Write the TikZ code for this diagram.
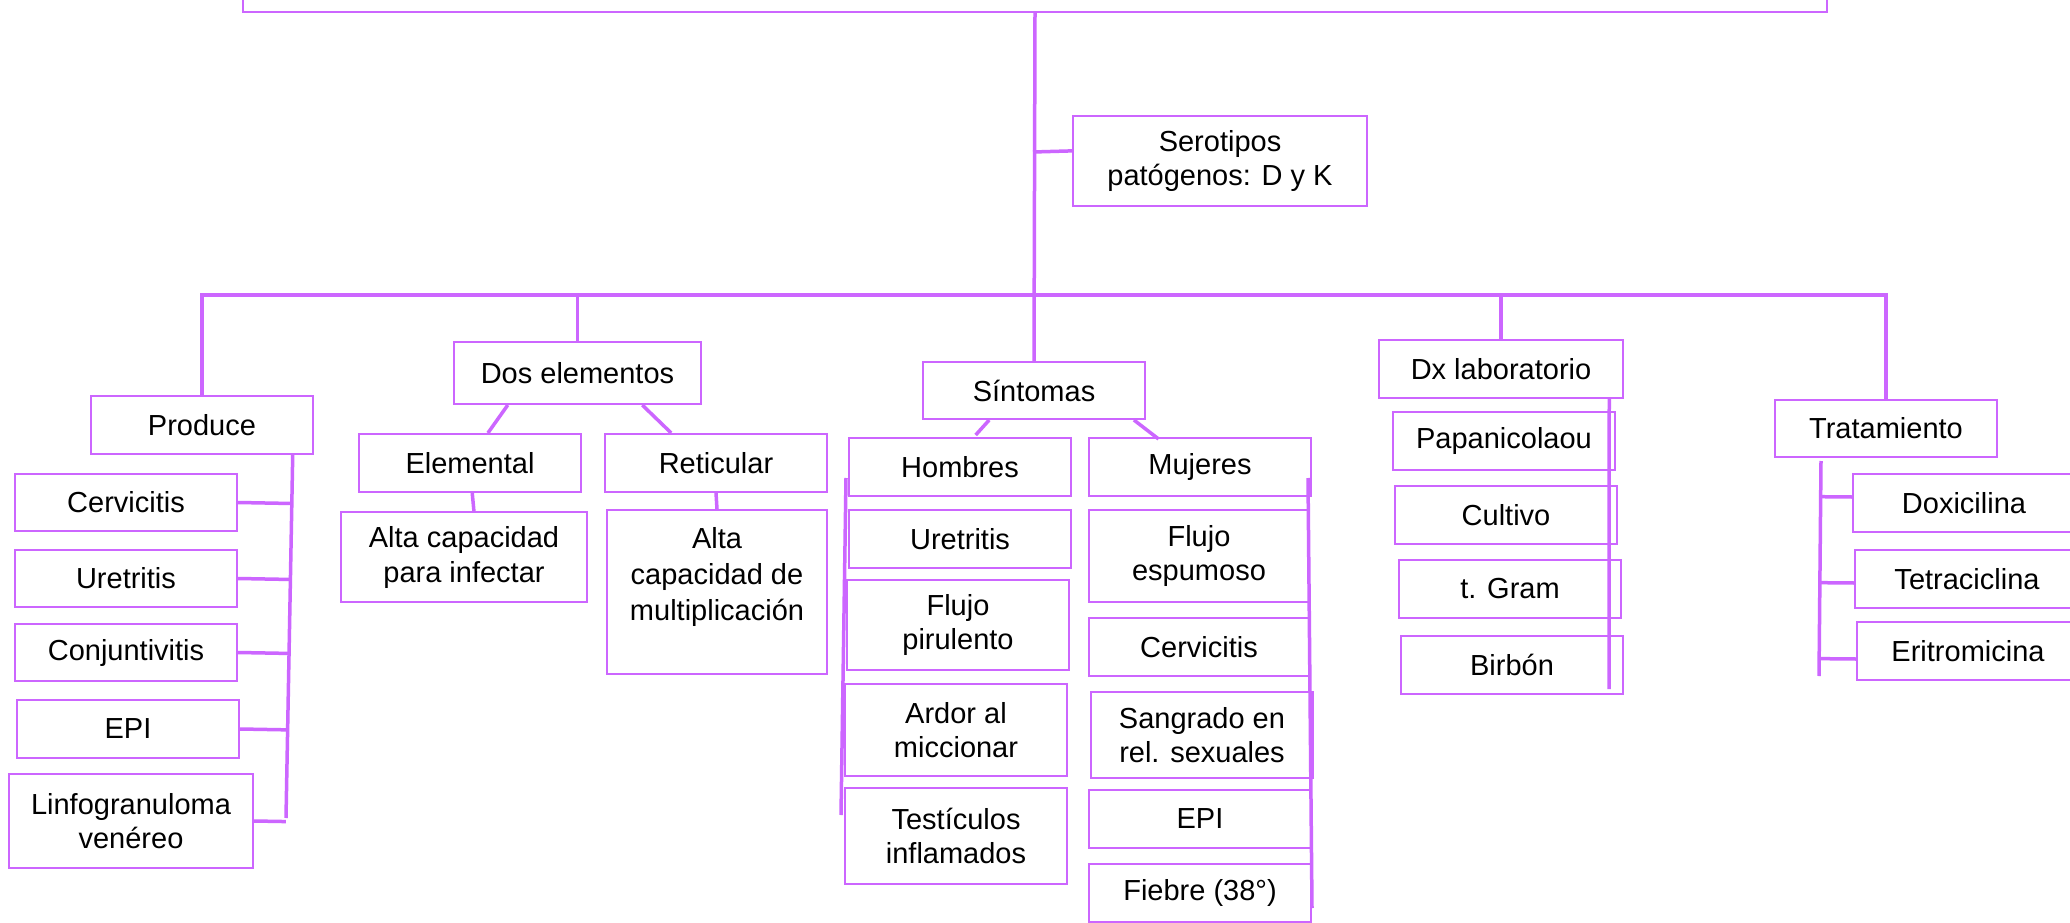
\documentclass[tikz,border=0pt]{standalone}
\usepackage{fontspec}
\setmainfont{Liberation Sans}
\usetikzlibrary{calc}
\definecolor{pur}{RGB}{204,102,255}
\newcommand\fs{\fontsize{29}{34}\selectfont}
\tikzset{
  bbase/.style={draw=pur, line width=2pt, inner sep=0pt, anchor=north west, font=\fs, text=black},
  box/.style={bbase, align=center},
  conn/.style={draw=pur, line width=3.5pt},
}
\begin{document}
\begin{tikzpicture}[x=1pt,y=-1pt]
\useasboundingbox (0,0) rectangle (2070,923);
\fill[white] (0,0) rectangle (2070,923);
\clip (0,0) rectangle (2070,923);

% top box
\node[box, minimum width=1584pt, minimum height=60pt] (top) at (242,-49) {};
\node[box, minimum width=294pt, minimum height=90pt] (sero) at (1072,115) {Serotipos\\patógenos: D y K};

% level 1
\node[box, minimum width=222pt, minimum height=58pt] (produce) at (90,395) {Produce};
\node[box, minimum width=247pt, minimum height=62pt] (dos) at (453,341) {Dos elementos};
\node[box, minimum width=222pt, minimum height=57pt] (sint) at (922,361) {Síntomas};
\node[box, minimum width=244pt, minimum height=58pt] (dx) at (1378,339) {Dx laboratorio};
\node[box, minimum width=222pt, minimum height=57pt] (trat) at (1774,399) {Tratamiento};

% Produce children
\node[box, minimum width=222pt, minimum height=57pt] (cerv) at (14,473) {Cervicitis};
\node[box, minimum width=222pt, minimum height=57pt] (uret) at (14,549) {Uretritis};
\node[box, minimum width=222pt, minimum height=57pt] (conj) at (14,623) {Conjuntivitis};
\node[box, minimum width=222pt, minimum height=58pt] (epi) at (16,699) {EPI};
\node[box, minimum width=244pt, minimum height=94pt] (linfo) at (8,773) {Linfogranuloma\\venéreo};

% Dos elementos children
\node[box, minimum width=222pt, minimum height=58pt] (elem) at (358,433) {Elemental};
\node[box, minimum width=222pt, minimum height=58pt] (ret) at (604,433) {Reticular};
\node[box, minimum width=246pt, minimum height=90pt, font=\fontsize{29}{35}\selectfont] (altainf) at (340,511) {Alta capacidad\\para infectar};
\node[bbase, minimum width=220pt, minimum height=164pt] (altamul) at (606,509)
  {\parbox[c][164pt][t]{220pt}{\centering\fontsize{29}{36}\selectfont\vspace*{17pt}Alta\\capacidad de\\multiplicación}};

% Sintomas children
\node[box, minimum width=222pt, minimum height=58pt] (hom) at (848,437) {Hombres};
\node[box, minimum width=222pt, minimum height=58pt] (ureh) at (848,509) {Uretritis};
\node[box, minimum width=222pt, minimum height=90pt] (flujop) at (846,579) {Flujo\\pirulento};
\node[box, minimum width=222pt, minimum height=92pt] (ardor) at (844,683) {Ardor al\\miccionar};
\node[box, minimum width=222pt, minimum height=96pt] (test) at (844,787) {Testículos\\inflamados};

\node[box, minimum width=222pt, minimum height=58pt] (muj) at (1088,437) {Mujeres};
\node[box, minimum width=220pt, minimum height=92pt] (flujoe) at (1088,509) {Flujo\\espumoso};
\node[box, minimum width=220pt, minimum height=58pt] (cervm) at (1088,617) {Cervicitis};
\node[box, minimum width=222pt, minimum height=86pt] (sang) at (1090,691) {Sangrado en\\rel. sexuales};
\node[box, minimum width=222pt, minimum height=58pt] (epim) at (1088,789) {EPI};
\node[box, minimum width=222pt, minimum height=58pt] (fiebre) at (1088,863) {Fiebre (38°)};

% Dx children
\node[box, minimum width=222pt, minimum height=58pt] (papa) at (1392,411) {Papanicolaou};
\node[box, minimum width=222pt, minimum height=58pt] (cult) at (1394,485) {Cultivo};
\node[box, minimum width=222pt, minimum height=58pt] (gram) at (1398,559) {t. Gram};
\node[box, minimum width=222pt, minimum height=58pt] (birb) at (1400,635) {Birbón};

% Tratamiento children
\node[box, minimum width=222pt, minimum height=58pt] (dox) at (1852,473) {Doxicilina};
\node[box, minimum width=224pt, minimum height=58pt] (tet) at (1854,549) {Tetraciclina};
\node[box, minimum width=222pt, minimum height=58pt] (eri) at (1856,621) {Eritromicina};

% ---------- connectors ----------
\coordinate (busmid) at (1033,295);
\coordinate (j1) at (1033,152);
\draw[conn] (top.south) -- (sint.north);
\draw[conn] (j1) -- ($(sero.north west)!0.39!(sero.south west)$);
\draw[conn] (produce.north) |- (busmid) -| (trat.north);
\draw[conn] (dos.north) -- (dos.north |- busmid);
\draw[conn] (dx.north) -- (dx.north |- busmid);

% Dos elementos
\draw[conn] ($(dos.south west)!0.22!(dos.south east)$) -- ($(elem.north west)!0.58!(elem.north east)$);
\draw[conn] ($(dos.south west)!0.76!(dos.south east)$) -- ($(ret.north west)!0.30!(ret.north east)$);
\draw[conn] ($(elem.south west)!0.51!(elem.south east)$) -- ($(altainf.north west)!0.54!(altainf.north east)$);
\draw[conn] (ret.south) -- (altamul.north);

% Sintomas
\draw[conn] ($(sint.south west)!0.30!(sint.south east)$) -- ($(hom.north west)!0.57!(hom.north east)+(0,-2)$);
\draw[conn] ($(sint.south west)!0.946!(sint.south east)$) -- ($(muj.north west)!0.315!(muj.north east)+(0,2)$);
\coordinate (hs1) at (846,478);
\coordinate (hs2) at (841,815);
\draw[conn] (hs1) -- (hs2);
\coordinate (ms1) at (1308,478);
\coordinate (ms2) at (1312,908);
\draw[conn] (ms1) -- (ms2);

% Produce spine
\coordinate (ps1) at ($(produce.south west)!0.905!(produce.south east)$);
\coordinate (ps2) at (286,818);
\draw[conn] (ps1) -- (ps2);
\foreach \n in {cerv,uret,conj,epi,linfo}
  \draw[conn] (\n.east) -- ($(ps1)!(\n.east)!(ps2)$);

% Dx spine
\coordinate (ds1) at ($(dx.south west)!0.94!(dx.south east)$);
\coordinate (ds2) at (1609,689);
\draw[conn] (ds1) -- (ds2);

% Tratamiento spine
\coordinate (ts1) at (1821,461);
\coordinate (ts2) at (1819,676);
\draw[conn] (ts1) -- (ts2);
\foreach \n/\dy in {dox/-6,tet/4,eri/8}
  \draw[conn] ($(\n.west)+(0,\dy)$) -- ($(ts1)!($(\n.west)+(0,\dy)$)!(ts2)$);
\end{tikzpicture}
\end{document}
